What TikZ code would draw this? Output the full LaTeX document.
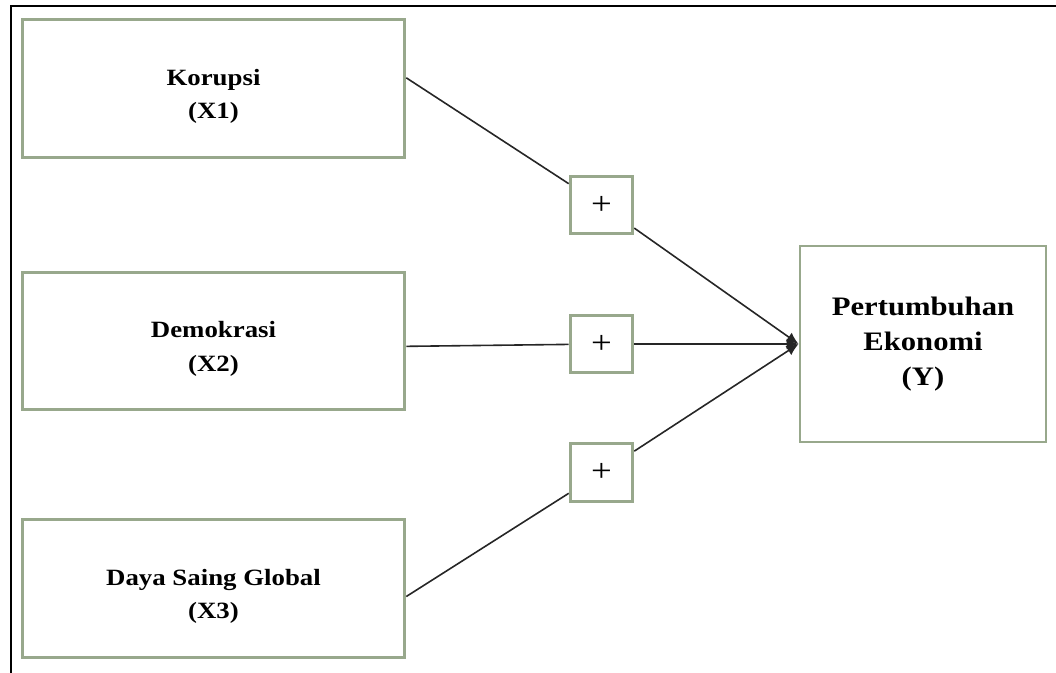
\documentclass[tikz,border=0pt]{standalone}
\usepackage{fontspec}
\setmainfont{Liberation Serif}[FakeStretch=1.15]
\usetikzlibrary{arrows.meta, positioning, calc}
\definecolor{boxgreen}{RGB}{152,168,140}
\newcommand{\vargap}{\rule{0pt}{24pt}}

\begin{document}
\begin{tikzpicture}[x=0.75pt, y=-0.75pt,
                    varbox/.style={rectangle, draw=boxgreen, line width=2.2pt, fill=white, align=center, font=\fontsize{17.5}{25}\selectfont\bfseries, minimum width=287pt, minimum height=103pt},
                    ybox/.style={rectangle, draw=boxgreen, line width=2.2pt, fill=white, align=center, font=\fontsize{20}{26}\selectfont\bfseries, minimum width=184.5pt, minimum height=147pt},
                    signbox/.style={rectangle, draw=boxgreen, line width=2.2pt, fill=white, font=\fontsize{24}{26}\selectfont, minimum width=47pt, minimum height=43pt, inner sep=0pt},
                    link/.style={line width=1.2pt, draw=black!85},
                    arrow/.style={link, -{Latex[length=9pt, width=8pt]}}
                ]

                \useasboundingbox (0,0) rectangle (1056,672);

                % Outer frame
                \draw[line width=0.9pt] (11,6) rectangle (1070,690);

                % Independent variables
                \node (korupsi) [varbox] at (213.5, 88.5) {\vargap Korupsi \\ (X1)};
                \node (demokrasi) [varbox] at (213.5, 341) {\vargap Demokrasi \\ (X2)};
                \node (dayasaing) [varbox] at (213.5, 588.5) {\vargap Daya Saing Global \\ (X3)};

                % Dependent variable
                \node (pertumbuhan) [ybox] at (923, 344) {Pertumbuhan \\ Ekonomi \\ (Y)};

                % Sign boxes
                \node (plus1) [signbox] at (601.5, 205) {+};
                \node (plus2) [signbox] at (601.5, 344) {+};
                \node (plus3) [signbox] at (601.5, 472.5) {+};

                % Connectors
                \draw [link] ([yshift=8pt]korupsi.east) -- (plus1);
                \draw [link] ([yshift=-4pt]demokrasi.east) -- (plus2);
                \draw [link] ([yshift=-6pt]dayasaing.east) -- (plus3);
                \draw [arrow] (plus1) -- (pertumbuhan.west);
                \draw [arrow] (plus2) -- (pertumbuhan.west);
                \draw [arrow] (plus3) -- (pertumbuhan.west);

            \end{tikzpicture}
\end{document}
